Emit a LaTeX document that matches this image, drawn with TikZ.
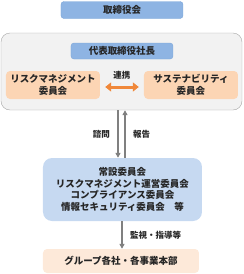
\documentclass[tikz,border=0pt]{standalone}
\usepackage{fontspec}
\setmainfont{Noto Sans CJK JP}
\usepackage{xcolor}
\definecolor{cBlue}{HTML}{8EB4E3}
\definecolor{cBlueLine}{HTML}{7BA5D8}
\definecolor{cLight}{HTML}{C6D9F1}
\definecolor{cPeach}{HTML}{FCD5B4}
\definecolor{cPale}{HTML}{FDE9D9}
\definecolor{cAccent}{HTML}{F0883A}
\definecolor{cPanel}{HTML}{F2F2F2}
\definecolor{cGray}{HTML}{A6A6A6}
\definecolor{cArrow}{HTML}{808080}
\definecolor{cText}{HTML}{262626}
\usepackage{tikz}
\usetikzlibrary{positioning,arrows.meta,calc}
\tikzset{
  x=1pt,y=1pt,
  every node/.style={text=cText,font=\fontsize{9.5}{11.5}\selectfont\bfseries},
  node-head/.style={draw=cBlueLine,fill=cBlue,rounded corners=3pt,
    minimum height=17pt,inner sep=0pt},
  node-panel/.style={draw=cGray,fill=cPanel,rounded corners=9pt,
    minimum width=241pt,minimum height=77pt},
  node-cmte/.style={fill=cPeach,rounded corners=4pt,align=center,
    minimum width=94pt,minimum height=28pt,inner sep=0pt},
  node-std/.style={fill=cLight,rounded corners=9pt,align=center,
    minimum width=159pt,minimum height=63pt,inner sep=0pt},
  node-group/.style={fill=cPale,rounded corners=4pt,
    minimum width=156pt,minimum height=24pt,inner sep=0pt},
  arrow/.style={-{Triangle[length=5pt,width=5pt]},line width=1.4pt,draw=cArrow},
  arrow-link/.style={{Triangle[length=6pt,width=9pt]}-{Triangle[length=6pt,width=9pt]},
    line width=3pt,draw=cAccent},
  lbl/.style={font=\fontsize{8.5}{10}\selectfont\bfseries},
}
\begin{document}
\begin{tikzpicture}
  \useasboundingbox (0,0) rectangle (244,-274);
  \node[node-head,minimum width=122pt] (board) at (122,-10) {取締役会};
  \node[node-panel] (panel) at (121.5,-71.5) {};
  \node[node-head,minimum width=102pt,minimum height=16pt] (ceo) at (122,-51) {代表取締役社長};
  \node[node-cmte] (risk) at (53,-85) {リスクマネジメント\\委員会};
  \node[node-cmte] (sust) at (191,-85) {サステナビリティ\\委員会};
  \draw[arrow-link] ($(risk.east)+(5,-2)$) -- node[above=3pt,lbl] {連携} ($(sust.west)+(-5,-2)$);
  \node[node-std] (standing) at (122.5,-189.5)
    {常設委員会\\リスクマネジメント運営委員会\\コンプライアンス委員会\\情報セキュリティ委員会　等};
  \node[node-group] (group) at (121,-261) {グループ各社・各事業本部};
  % 諮問 / 報告
  \draw[arrow] (panel.south -| 118,0) -- node[left=4pt,lbl] {諮問} (standing.north -| 118,0);
  \draw[arrow] (standing.north -| 125,0) -- node[right=4pt,lbl] {報告} (panel.south -| 125,0);
  \draw[arrow] (standing.south -| 122,0) -- node[right=4pt,lbl] {監視・指導等} (group.north -| 122,0);
\end{tikzpicture}
\end{document}
